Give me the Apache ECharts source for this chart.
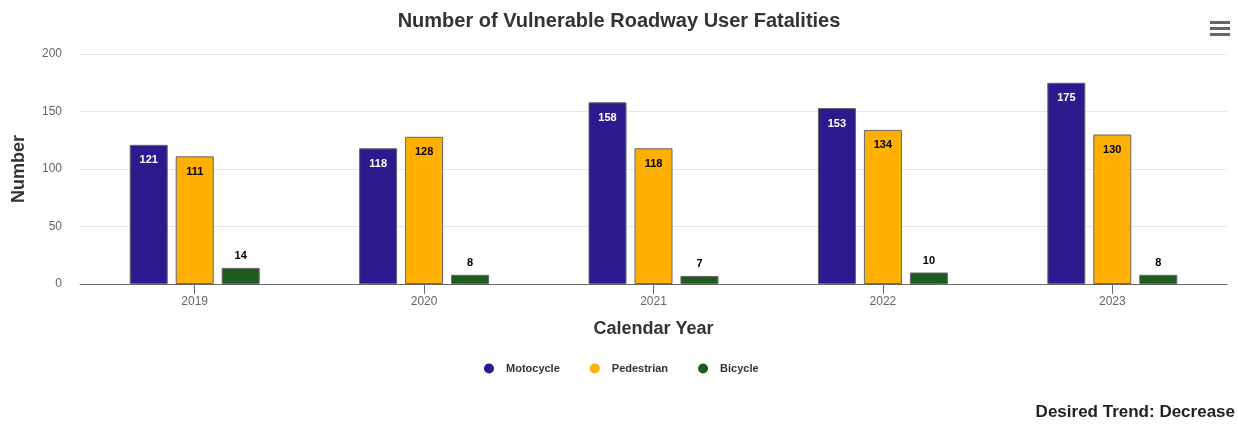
<!DOCTYPE html>
<html>
<head>
<meta charset="utf-8">
<script src="https://cdn.jsdelivr.net/npm/echarts@6/dist/echarts.min.js"></script>
<style>
  html, body { margin: 0; padding: 0; background: #fff; }
  #main { width: 1238px; height: 424px; }
</style>
</head>
<body>
<div id="main"></div>
<script>
var years = ['2019', '2020', '2021', '2022', '2023'];
var motocycle = [121, 118, 158, 153, 175];
var pedestrian = [111, 128, 118, 134, 130];
var bicycle = [14, 8, 7, 10, 8];

var myChart = echarts.init(document.getElementById('main'));
var font = 'Liberation Sans, Arial, sans-serif';

function barLabel(pos, color, dist) {
    return {
        show: true,
        position: pos,
        distance: dist,
        color: color,
        fontFamily: font,
        fontWeight: 'bold',
        fontSize: 11
    };
}

var option = {
    animation: false,
    title: {
        text: 'Number of Vulnerable Roadway User Fatalities',
        left: 'center',
        top: 6,
        textStyle: { fontFamily: font, fontSize: 20, fontWeight: 'bold', color: '#333' }
    },
    legend: {
        top: 358,
        left: 479,
        icon: 'circle',
        itemWidth: 24,
        itemHeight: 10,
        itemGap: 30,
        itemStyle: { borderWidth: 0 },
        textStyle: { fontFamily: font, fontSize: 11, fontWeight: 'bold', color: '#333' },
        data: ['Motocycle', 'Pedestrian', 'Bicycle']
    },
    grid: { left: 80, right: 11, top: 54, bottom: 140 },
    xAxis: {
        type: 'category',
        data: years,
        name: 'Calendar Year',
        nameLocation: 'middle',
        nameGap: 36,
        nameTextStyle: { fontFamily: font, fontSize: 18, fontWeight: 'bold', color: '#333' },
        axisLine: { lineStyle: { color: '#666' } },
        axisTick: { show: true, alignWithLabel: true, length: 10, lineStyle: { color: '#666' } },
        axisLabel: { fontFamily: font, fontSize: 12, color: '#666', margin: 12 }
    },
    yAxis: {
        type: 'value',
        min: 0,
        max: 200,
        interval: 50,
        name: 'Number',
        nameLocation: 'middle',
        nameGap: 52,
        nameTextStyle: { fontFamily: font, fontSize: 18, fontWeight: 'bold', color: '#333' },
        axisLine: { show: false },
        axisTick: { show: false },
        axisLabel: { fontFamily: font, fontSize: 12, color: '#666', margin: 18 },
        splitLine: { lineStyle: { color: '#e6e6e6' } }
    },
    graphic: [
        { type: 'rect', right: 8, top: 21, shape: { width: 20, height: 3 }, style: { fill: '#666' } },
        { type: 'rect', right: 8, top: 27, shape: { width: 20, height: 3 }, style: { fill: '#666' } },
        { type: 'rect', right: 8, top: 33, shape: { width: 20, height: 3 }, style: { fill: '#666' } },
        {
            type: 'text', right: 3, bottom: 3,
            style: { text: 'Desired Trend: Decrease', fontFamily: font, fontSize: 17, fontWeight: 'bold', fill: '#222' }
        }
    ],
    series: [
        {
            name: 'Motocycle',
            type: 'bar',
            data: motocycle,
            barWidth: 38,
            barGap: '21%',
            itemStyle: { color: '#2e1a8e', borderColor: '#666', borderWidth: 1 },
            label: barLabel('insideTop', '#fff', 10)
        },
        {
            name: 'Pedestrian',
            type: 'bar',
            data: pedestrian,
            barWidth: 38,
            itemStyle: { color: '#ffb000', borderColor: '#666', borderWidth: 1 },
            label: barLabel('insideTop', '#000', 10)
        },
        {
            name: 'Bicycle',
            type: 'bar',
            data: bicycle,
            barWidth: 38,
            itemStyle: { color: '#1e5c1e', borderColor: '#666', borderWidth: 1 },
            label: barLabel('top', '#000', 6)
        }
    ]
};

myChart.setOption(option);
window.onresize = function () { myChart.resize(); };
</script>
</body>
</html>
